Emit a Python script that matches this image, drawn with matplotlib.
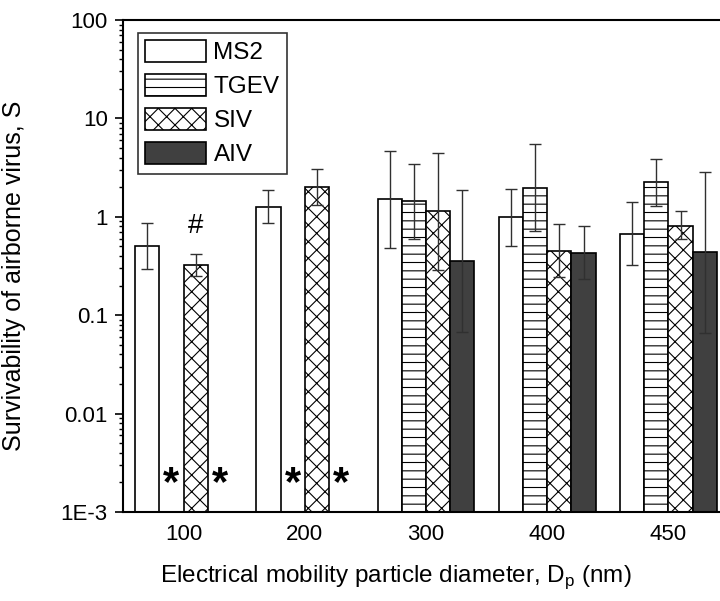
import numpy as np
import matplotlib
matplotlib.use("Agg")
import matplotlib.pyplot as plt
from matplotlib.ticker import FixedLocator, FixedFormatter, LogLocator, NullFormatter

plt.rcParams['font.family'] = ['Liberation Sans', 'DejaVu Sans']
plt.rcParams['hatch.linewidth'] = 0.8

nan = np.nan
categories = ['100', '200', '300', '400', '450']
series_names = ['MS2', 'TGEV', 'SIV', 'AIV']

MS2 = [0.50, 1.26, 1.51, 1.00, 0.67]
MS2_lo = [0.295, 0.86, 0.48, 0.51, 0.324]
MS2_hi = [0.86, 1.86, 4.7, 1.93, 1.40]

TGEV = [nan, nan, 1.44, 1.98, 2.24]
TGEV_lo = [nan, nan, 0.60, 0.72, 1.30]
TGEV_hi = [nan, nan, 3.46, 5.5, 3.87]

SIV = [0.32, 2.01, 1.14, 0.453, 0.81]
SIV_lo = [0.25, 1.32, 0.286, 0.244, 0.60]
SIV_hi = [0.416, 3.06, 4.48, 0.85, 1.14]

AIV = [nan, nan, 0.358, 0.432, 0.437]
AIV_lo = [nan, nan, 0.068, 0.235, 0.066]
AIV_hi = [nan, nan, 1.86, 0.805, 2.87]

# annotations: '*' = not detected (TGEV, AIV at 100 and 200 nm); '#' over SIV at 100 nm
star_series = ['TGEV', 'AIV']
star_groups = [0, 1]
star_level = 0.0019
hash_group = 0
hash_series = 'SIV'
hash_level = 0.80

ytick_vals = [1e-3, 1e-2, 1e-1, 1, 10, 100]
ytick_labels = ['1E-3', '0.01', '0.1', '1', '10', '100']

values = {'MS2': MS2, 'TGEV': TGEV, 'SIV': SIV, 'AIV': AIV}
lows = {'MS2': MS2_lo, 'TGEV': TGEV_lo, 'SIV': SIV_lo, 'AIV': AIV_lo}
highs = {'MS2': MS2_hi, 'TGEV': TGEV_hi, 'SIV': SIV_hi, 'AIV': AIV_hi}
styles = {
    'MS2': dict(facecolor='white', hatch=None),
    'TGEV': dict(facecolor='white', hatch='--'),
    'SIV': dict(facecolor='white', hatch='xx'),
    'AIV': dict(facecolor='#404040', hatch=None),
}

fig = plt.figure(figsize=(7.2, 6.01), dpi=100)
ax = fig.add_axes([123/720, 89/601, 606/720, 492/601])
ax.set_yscale('log')
ymin, ymax = 1e-3, 100
ax.set_ylim(ymin, ymax)
ax.set_xlim(-0.5, len(categories) - 0.5)

x = np.arange(len(categories))
width = 0.2
offsets = {name: (i - 1.5) * width for i, name in enumerate(series_names)}

for name in series_names:
    v = np.array(values[name], dtype=float)
    lo = np.array(lows[name], dtype=float)
    hi = np.array(highs[name], dtype=float)
    st = styles[name]
    ax.bar(x + offsets[name], v - ymin, bottom=ymin, width=width,
           facecolor=st['facecolor'], hatch=st['hatch'], edgecolor='black',
           linewidth=1.2, label=name, zorder=2)
    ax.errorbar(x + offsets[name], v, yerr=[v - lo, hi - v], fmt='none',
                ecolor='#303030', elinewidth=1.0, capsize=4, capthick=1.0, zorder=3)

for name in star_series:
    for g in star_groups:
        ax.text(x[g] + offsets[name], star_level, '*', ha='center', va='center',
                fontsize=30, fontweight='bold', zorder=4)
ax.text(x[hash_group] + offsets[hash_series], hash_level, '#', ha='center', va='center',
        fontsize=20, zorder=4)

ax.yaxis.set_major_locator(FixedLocator(ytick_vals))
ax.yaxis.set_major_formatter(FixedFormatter(ytick_labels))
ax.yaxis.set_minor_locator(LogLocator(base=10, subs=np.arange(2, 10)))
ax.yaxis.set_minor_formatter(NullFormatter())
ax.tick_params(axis='y', which='major', direction='out', length=6, width=1.2, labelsize=16, pad=5)
ax.tick_params(axis='y', which='minor', direction='out', length=3, width=1.0)
ax.set_xticks(x)
ax.set_xticklabels(categories)
ax.tick_params(axis='x', length=0, labelsize=16, pad=9)

for sp in ['left', 'bottom', 'top']:
    ax.spines[sp].set_linewidth(1.5)
ax.spines['right'].set_visible(False)

ax.set_ylabel('Survivability of airborne virus, S', fontsize=18)
ax.yaxis.set_label_coords(-0.16, 0.48)
ax.set_xlabel('Electrical mobility particle diameter, D$_\\mathregular{p}$ (nm)', fontsize=17.5)
ax.xaxis.set_label_coords(0.45, -0.104)

leg = ax.legend(loc='upper left', bbox_to_anchor=(0.025, 0.9736), borderaxespad=0,
                fontsize=17.5, frameon=True, fancybox=False, edgecolor='black',
                handlelength=2.5, handleheight=1.0, handletextpad=0.3,
                labelspacing=0.4, borderpad=0.3)
leg.get_frame().set_linewidth(1.2)
leg.set_zorder(5)

fig.savefig('out.png', dpi=100)
